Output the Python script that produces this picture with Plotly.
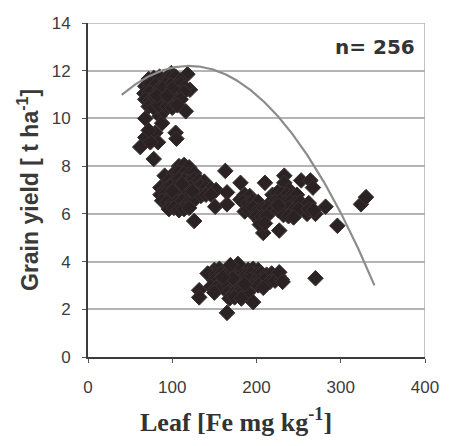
import numpy as np
import plotly.graph_objects as go

# Leaf Fe concentration (mg/kg) vs grain yield (t/ha), three yield groups
high_group = [
    (99, 11.9), (118, 11.85), (121, 11.2), (116, 10.3), (68, 10.0), (85, 10.1),
    (88, 9.8), (104, 9.4), (105, 9.15), (68, 9.2), (62, 8.8), (80, 9.4),
    (83, 9.0), (78, 8.3), (74, 9.0), (72, 9.5), (90, 10.3),
    (72, 11.65), (78, 11.7), (85, 11.75), (91, 11.6), (97, 11.7), (104, 11.75), (110, 11.6),
    (68, 11.35), (74, 11.45), (80, 11.4), (86, 11.3), (92, 11.45), (98, 11.4),
    (104, 11.35), (110, 11.45), (115, 11.3),
    (67, 11.05), (73, 11.1), (79, 11.0), (85, 11.15), (91, 11.1), (97, 11.0),
    (103, 11.15), (109, 11.05), (114, 11.1),
    (68, 10.8), (74, 10.75), (80, 10.85), (86, 10.8), (92, 10.7), (98, 10.85),
    (104, 10.75), (110, 10.8),
    (72, 10.5), (78, 10.45), (84, 10.55), (94, 10.5), (100, 10.45), (106, 10.55),
    (88, 11.25), (100, 11.25), (82, 10.95), (94, 10.95),
]

mid_group = [
    (108, 8.0), (114, 8.05), (120, 7.95),
    (91, 7.6), (102, 7.7), (108, 7.75), (114, 7.7), (120, 7.65), (126, 7.7),
    (96, 7.4), (102, 7.35), (108, 7.45), (114, 7.4), (120, 7.35), (126, 7.45), (132, 7.4), (138, 7.35),
    (86, 7.1), (92, 7.05), (98, 7.15), (104, 7.1), (110, 7.05), (116, 7.15),
    (122, 7.1), (128, 7.05), (134, 7.15), (140, 7.1), (146, 7.05), (152, 7.0),
    (86, 6.8), (92, 6.85), (98, 6.75), (104, 6.8), (110, 6.85), (116, 6.75),
    (122, 6.8), (128, 6.85), (134, 6.75), (140, 6.8), (146, 6.8),
    (88, 6.55), (94, 6.5), (100, 6.45), (106, 6.5), (112, 6.55), (118, 6.45), (124, 6.5),
    (96, 6.2), (102, 6.25), (108, 6.15), (114, 6.2), (120, 6.25),
    (126, 5.7), (151, 6.3), (163, 7.8), (165, 6.9), (165, 6.4), (181, 7.3),
    (181, 6.6), (192, 6.6), (186, 6.1), (196, 6.0), (204, 5.7), (208, 5.2),
    (210, 7.3), (212, 6.0), (221, 6.6), (227, 5.3), (233, 7.6), (233, 7.3),
    (231, 6.3), (239, 6.6), (247, 6.0), (253, 7.4), (264, 7.4), (267, 7.1),
    (260, 6.0), (270, 6.0), (282, 6.3), (296, 5.5), (324, 6.4), (330, 6.7),
    (239, 7.0), (219, 6.8), (225, 6.9),
    (186, 6.8), (192, 6.75), (230, 6.85), (236, 6.8), (242, 6.75), (248, 6.8),
    (184, 6.5), (190, 6.45), (196, 6.55), (202, 6.5), (216, 6.45), (222, 6.5),
    (228, 6.55), (234, 6.45), (240, 6.5), (246, 6.45), (252, 6.5), (262, 6.45),
    (190, 6.2), (196, 6.25), (202, 6.15), (208, 6.2), (214, 6.25), (220, 6.2),
    (226, 6.15), (232, 6.2), (238, 6.25), (244, 6.15), (250, 6.2), (262, 6.2), (268, 6.15),
    (200, 5.9), (206, 5.85), (212, 5.9), (232, 5.95), (238, 5.9), (244, 5.85),
    (204, 5.55), (210, 5.6),
    (112, 7.25), (124, 6.95), (100, 6.95), (226, 6.35),
]

low_group = [
    (150, 3.65), (156, 3.7), (170, 3.7), (176, 3.75), (182, 3.7), (190, 3.65), (196, 3.7), (202, 3.65),
    (142, 3.5), (152, 3.45), (158, 3.5), (164, 3.45), (170, 3.5), (176, 3.45), (182, 3.5),
    (188, 3.45), (194, 3.5), (200, 3.45), (206, 3.5), (212, 3.45), (218, 3.5), (226, 3.4),
    (150, 3.2), (156, 3.25), (162, 3.15), (168, 3.2), (174, 3.25), (180, 3.15), (186, 3.2),
    (192, 3.25), (198, 3.15), (204, 3.2), (210, 3.25), (216, 3.15), (222, 3.2), (230, 3.25),
    (146, 2.95), (152, 2.9), (160, 2.95), (166, 3.0), (172, 2.9), (178, 2.95), (184, 3.0),
    (190, 2.9), (196, 2.95), (202, 3.0), (208, 2.9),
    (150, 2.7), (166, 2.7), (172, 2.65), (178, 2.7), (184, 2.75), (190, 2.7),
    (168, 2.45), (174, 2.5), (182, 2.45),
    (132, 2.8), (132, 2.5), (165, 1.85), (196, 2.3), (270, 3.3), (178, 3.9),
    (169, 3.85), (227, 3.55), (231, 3.15),
    (172, 3.3), (186, 3.05), (160, 3.35),
]

# quadratic trend: yield = c0 + c1*Fe + c2*Fe^2
trend_coef = (9.464, 0.0456, -0.00019)
trend_range = (40, 340)

x_ticks = [0, 100, 200, 300, 400]
y_ticks = [0, 2, 4, 6, 8, 10, 12, 14]

points = high_group + mid_group + low_group
px = [p[0] for p in points]
py = [p[1] for p in points]

fe = np.linspace(trend_range[0], trend_range[1], 200)
fit = trend_coef[0] + trend_coef[1] * fe + trend_coef[2] * fe ** 2

fig = go.Figure()
fig.add_trace(go.Scatter(
    x=px, y=py, mode="markers",
    marker=dict(symbol="diamond", size=12, color="#2b2224",
                line=dict(width=1, color="#3a3234")),
    showlegend=False, hoverinfo="skip",
))
fig.add_trace(go.Scatter(
    x=fe, y=fit, mode="lines",
    line=dict(color="#8c8c8c", width=2.2),
    showlegend=False, hoverinfo="skip",
))

tick_font = dict(family="Liberation Sans, Arial", size=17, color="#3c3c3c")

fig.update_layout(
    width=451, height=446,
    margin=dict(l=88, r=18, t=23, b=89),
    paper_bgcolor="white", plot_bgcolor="white",
    xaxis=dict(
        range=[0, 400], tickvals=x_ticks, ticktext=[str(v) for v in x_ticks],
        showgrid=False, zeroline=False,
        showline=True, linecolor="#3c3c3c", linewidth=2,
        ticks="outside", ticklen=4, tickcolor="#555", tickwidth=1,
        tickfont=tick_font, ticklabelstandoff=10,
    ),
    yaxis=dict(
        range=[0, 14], tickvals=y_ticks, ticktext=[str(v) for v in y_ticks],
        showgrid=True, gridcolor="#b4b4b4", gridwidth=1.6, zeroline=False,
        showline=True, linecolor="#3c3c3c", linewidth=2,
        ticks="outside", ticklen=4, tickcolor="#555", tickwidth=1,
        tickfont=tick_font, ticklabelstandoff=8,
    ),
    shapes=[
        dict(type="line", xref="x", yref="y", x0=400, x1=400, y0=0, y1=14,
             line=dict(color="#b4b4b4", width=1.6), layer="below"),
        dict(type="line", xref="x", yref="y", x0=0, x1=400, y0=14, y1=14,
             line=dict(color="#b4b4b4", width=1.6), layer="below"),
    ],
    annotations=[
        dict(text="<b>n= 256</b>", xref="paper", yref="paper", x=0.975, y=0.927,
             xanchor="right", yanchor="middle", showarrow=False,
             font=dict(family="DejaVu Sans", size=20, color="#333")),
        dict(text="<b>Grain yield [ t ha<sup>-1</sup>]</b>", xref="paper", yref="paper",
             x=-0.178, y=0.5, textangle=-90, xanchor="center", yanchor="middle",
             showarrow=False,
             font=dict(family="Liberation Sans, Arial", size=23, color="#3a3a3a")),
        dict(text="<b>Leaf [Fe mg kg<sup>-1</sup>]</b>", xref="paper", yref="paper",
             x=0.44, y=-0.19, xanchor="center", yanchor="middle", showarrow=False,
             font=dict(family="Liberation Serif, Times New Roman", size=26, color="#333")),
    ],
)

fig.write_html("out.html")
